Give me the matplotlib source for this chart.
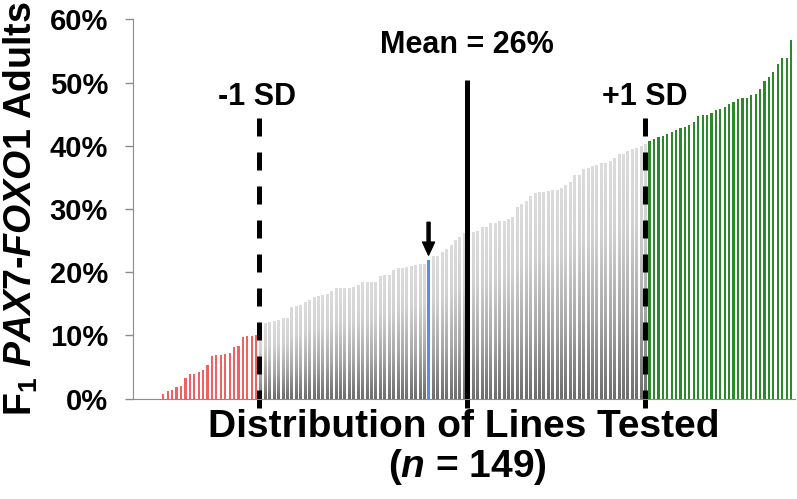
import numpy as np
import matplotlib
matplotlib.use("Agg")
import matplotlib.pyplot as plt
from matplotlib.colors import LinearSegmentedColormap

# percent of F1 PAX7-FOXO1 adults per line, sorted ascending (n = 149)
values = [0, 0, 0, 0, 0, 0,
          0.7, 1.2, 1.4, 1.8, 2.0, 3.2, 3.9, 3.9, 4.3, 4.6, 5.3, 6.8, 6.9, 6.9, 7.1,
          7.2, 8.2, 8.4, 9.7, 9.9, 9.9, 10.0,
          11.0, 11.9, 12.1, 12.2, 12.4, 12.7, 12.7, 14.4, 14.7, 14.8, 15.3, 15.6,
          16.0, 16.2, 16.4, 16.6, 17.0, 17.4, 17.5, 17.5, 17.5,
          17.7, 17.9, 18.5, 18.5, 18.5, 18.5, 19.3, 19.5, 19.6, 20.4, 20.6, 20.7,
          20.8, 20.9, 21.1, 21.2, 21.2, 21.9, 22.5, 22.6, 23.2,
          23.7, 24.2, 25.1, 25.5, 26.1, 26.2,
          26.4, 26.5, 27.1, 27.2, 27.7, 27.8, 28.0, 28.0, 28.4, 28.7,
          30.3, 30.8, 31.2,
          32.1, 32.5, 32.6, 32.7, 32.8, 32.9, 33.0, 33.3, 33.8, 34.2, 35.3, 35.4,
          36.3, 36.5, 36.8, 37.0, 37.2, 37.3, 37.5, 38.1, 38.6, 38.7,
          39.1, 39.4, 39.6, 39.9, 40.3,
          40.7, 41.0, 41.4, 41.6, 41.8, 42.1, 42.5, 42.8, 43.0, 43.3, 43.7, 44.7,
          44.8, 44.9,
          45.2, 45.6, 45.8, 46.1, 46.6, 47.0, 47.4, 47.5, 47.5, 48.1, 48.2, 49.0,
          50.2, 50.9, 51.7, 53.0, 53.9, 53.9, 56.8]
n_low = 28          # lines below -1 SD (red)
n_high = 33         # lines above +1 SD (green)
marked = 66         # highlighted line (blue, arrow)
mean_pos, minus_sd_pos, plus_sd_pos = 74.7, 27.65, 114.9
mean_label = "Mean = 26%"
yticks = [0, 10, 20, 30, 40, 50, 60]


def main():
    plt.rcParams['font.family'] = ['Liberation Sans', 'DejaVu Sans']
    plt.rcParams['mathtext.fontset'] = 'custom'
    plt.rcParams['mathtext.rm'] = 'Liberation Sans:bold'
    plt.rcParams['mathtext.it'] = 'Liberation Sans:bold:italic'

    fig = plt.figure(figsize=(7.97, 4.99), dpi=100)
    ax = fig.add_axes([0.1669, 0.201, 0.8306, 0.7603])

    n = len(values)
    w = 0.5
    grey = LinearSegmentedColormap.from_list(
        'g', [(0, '#6e6e6e'), (0.35, '#a8a8a8'), (0.7, '#d2d2d2'), (1, '#dcdcdc')])
    grad = np.linspace(0, 1, 64).reshape(-1, 1)

    for i, v in enumerate(values):
        if v <= 0:
            continue
        if i < n_low:
            ax.bar(i, v, width=w, color='#ee6262', linewidth=0)
        elif i >= n - n_high:
            ax.bar(i, v, width=w, color='#2a8a2a', linewidth=0)
        elif i == marked:
            ax.bar(i, v, width=w, color='#5b8ed6', linewidth=0)
        else:
            # excel-style gradient fill, dark at the base
            ax.imshow(grad, extent=(i - w / 2, i + w / 2, 0, v), origin='lower',
                      cmap=grey, aspect='auto', interpolation='bilinear')

    ax.set_xlim(-0.86, 148.9)
    ax.set_ylim(0, 60)

    # SD and mean lines
    ax.plot([mean_pos, mean_pos], [-1.5, 50.4], color='black', lw=3.6,
            solid_capstyle='butt', clip_on=False)
    for pos, top in [(minus_sd_pos, 44.4), (plus_sd_pos, 44.9)]:
        ax.plot([pos, pos], [-1.5, top], color='black', lw=3.6,
                linestyle=(0, (3.6, 3.2)), dash_capstyle='butt', clip_on=False)

    ax.text(mean_pos, 56, mean_label, ha='center', va='center', fontsize=22,
            fontweight='bold')
    ax.text(minus_sd_pos - 0.4, 47.7, "-1 SD", ha='center', va='center',
            fontsize=22, fontweight='bold')
    ax.text(plus_sd_pos, 47.7, "+1 SD", ha='center', va='center',
            fontsize=22, fontweight='bold')

    ax.annotate('', xy=(marked, 22.7), xytext=(marked, 27.9),
                arrowprops=dict(facecolor='black', edgecolor='black', width=2.2,
                                headwidth=8.6, headlength=9.4, shrink=0))

    ax.set_yticks(yticks)
    ax.set_yticklabels(['%d%%' % t for t in yticks], fontsize=21,
                       fontweight='bold')
    ax.set_xticks([])
    ax.tick_params(axis='y', direction='out', length=6, width=1,
                   color='#8c8c8c', pad=12)
    for s in ['top', 'right']:
        ax.spines[s].set_visible(False)
    ax.spines['left'].set_color('#8c8c8c')
    ax.spines['bottom'].set_color('#8c8c8c')

    fig.text(0.002, 0.582, r'$\mathrm{F}_{\mathrm{1}}$ $\mathit{PAX7}$-$\mathit{FOXO1}$ Adults',
             rotation=90, ha='left', va='center', fontsize=27, fontweight='bold')
    fig.text(0.582, 0.1443, "Distribution of Lines Tested", ha='center',
             va='center', fontsize=28, fontweight='bold')
    fig.text(0.587, 0.064, r"($\mathit{n}$ = 149)", ha='center', va='center',
             fontsize=28, fontweight='bold')

    fig.savefig('out.png', dpi=100)


if __name__ == "__main__":
    main()
